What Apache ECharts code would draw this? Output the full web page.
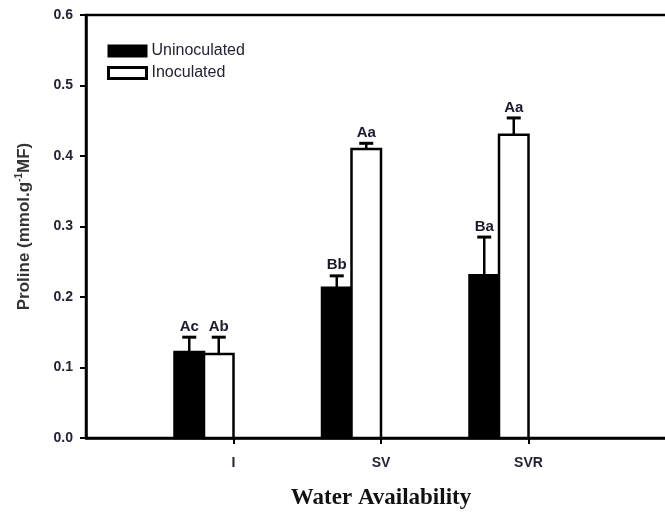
<!DOCTYPE html>
<html>
<head>
<meta charset="utf-8">
<script src="https://cdn.jsdelivr.net/npm/echarts@6/dist/echarts.min.js"></script>
<style>html,body{margin:0;padding:0;background:#fff;}#c{width:665px;height:515px;}</style>
</head>
<body>
<div id="c"></div>
<script>
const categories = ['I', 'SV', 'SVR'];
const uninoculated = [0.122, 0.213, 0.231];
const uninoculatedErr = [0.021, 0.017, 0.054];
const uninoculatedLetters = ['Ac', 'Bb', 'Ba'];
const inoculated = [0.119, 0.410, 0.430];
const inoculatedErr = [0.024, 0.008, 0.024];
const inoculatedLetters = ['Ab', 'Aa', 'Aa'];
const yTicks = [0, 0.1, 0.2, 0.3, 0.4, 0.5, 0.6];

const axisCats = [''].concat(categories, ['']);
const sans = '"Liberation Sans", Arial, sans-serif';

function makeRender(slot, fill, letters) {
  return function (params, api) {
    const ci = api.value(0), v = api.value(1), e = api.value(2);
    const base = api.coord([ci, 0]);
    const top = api.coord([ci, v]);
    const cap = api.coord([ci, v + e]);
    const band = api.size([1, 0])[0];
    const w = band * 0.2;
    const x0 = base[0] - w * (2 - slot);
    const cx = x0 + w / 2;
    return {
      type: 'group',
      children: [
        { type: 'line', shape: { x1: cx, y1: top[1], x2: cx, y2: cap[1] }, style: { stroke: '#000', lineWidth: 2.5 } },
        { type: 'line', shape: { x1: cx - 7, y1: cap[1], x2: cx + 7, y2: cap[1] }, style: { stroke: '#000', lineWidth: 3 } },
        { type: 'rect', shape: { x: x0, y: top[1], width: w, height: base[1] - top[1] }, style: { fill: fill, stroke: '#000', lineWidth: 2.5 } },
        { type: 'text', x: cx, y: cap[1] - 3, style: { text: letters[params.dataIndex], align: 'center', verticalAlign: 'bottom', font: 'bold 15px ' + sans, fill: '#1a1a2e' } }
      ]
    };
  };
}

const chart = echarts.init(document.getElementById('c'));
chart.setOption({
  animation: false,
  backgroundColor: '#fff',
  grid: { left: 86, top: 15, width: 590, height: 423, outerBoundsMode: 'none', containLabel: false,
    show: true, borderColor: '#000', borderWidth: 2.5, backgroundColor: 'transparent' },
  legend: {
    orient: 'vertical', left: 102, top: 38, itemWidth: 38, itemHeight: 11, itemGap: 6,
    selectedMode: false, icon: 'rect',
    textStyle: { fontSize: 16, color: '#22223a', fontFamily: sans },
    data: [
      { name: 'Uninoculated', itemStyle: { color: '#000', borderColor: '#000', borderWidth: 2 } },
      { name: 'Inoculated', itemStyle: { color: '#fff', borderColor: '#000', borderWidth: 3 } }
    ]
  },
  xAxis: {
    type: 'category', data: axisCats, boundaryGap: false,
    name: 'Water Availability', nameLocation: 'middle', nameGap: 49,
    nameTextStyle: { fontFamily: '"Liberation Serif", "Times New Roman", serif', fontWeight: 'bold', fontSize: 23, color: '#111' },
    axisLine: { lineStyle: { color: '#000', width: 2.5 } },
    axisTick: { show: true, length: 6, lineStyle: { color: '#000', width: 2 }, interval: function (i, v) { return v !== ''; } },
    axisLabel: { margin: 18, fontSize: 14, fontWeight: 'bold', color: '#22223a', fontFamily: sans, interval: 0 },
    splitLine: { show: false }
  },
  yAxis: {
    type: 'value', min: 0, max: 0.6, interval: 0.1,
    name: 'Proline (mmol.g{sup|-1}MF)', nameLocation: 'middle', nameGap: 52,
    nameTextStyle: {
      fontFamily: sans, fontWeight: 'bold', fontSize: 17, color: '#333', lineHeight: 20,
      rich: { sup: { fontSize: 10, fontWeight: 'bold', color: '#333', verticalAlign: 'top', lineHeight: 20, fontFamily: sans } }
    },
    axisLine: { show: true, lineStyle: { color: '#000', width: 2.5 } },
    axisTick: { show: true, length: 6, lineStyle: { color: '#000', width: 2 } },
    axisLabel: { margin: 13, fontSize: 14, fontWeight: 'bold', color: '#22223a', fontFamily: sans,
      formatter: function (v) { return v.toFixed(1); } },
    splitLine: { show: false }
  },
  series: [
    {
      name: 'Uninoculated', type: 'custom', itemStyle: { color: '#000' },
      renderItem: makeRender(0, '#000', uninoculatedLetters),
      data: categories.map((c, i) => [i + 1, uninoculated[i], uninoculatedErr[i]]),
      encode: { x: 0, y: 1 }
    },
    {
      name: 'Inoculated', type: 'custom', itemStyle: { color: '#fff', borderColor: '#000' },
      renderItem: makeRender(1, '#fff', inoculatedLetters),
      data: categories.map((c, i) => [i + 1, inoculated[i], inoculatedErr[i]]),
      encode: { x: 0, y: 1 }
    }
  ]
});
</script>
</body>
</html>
